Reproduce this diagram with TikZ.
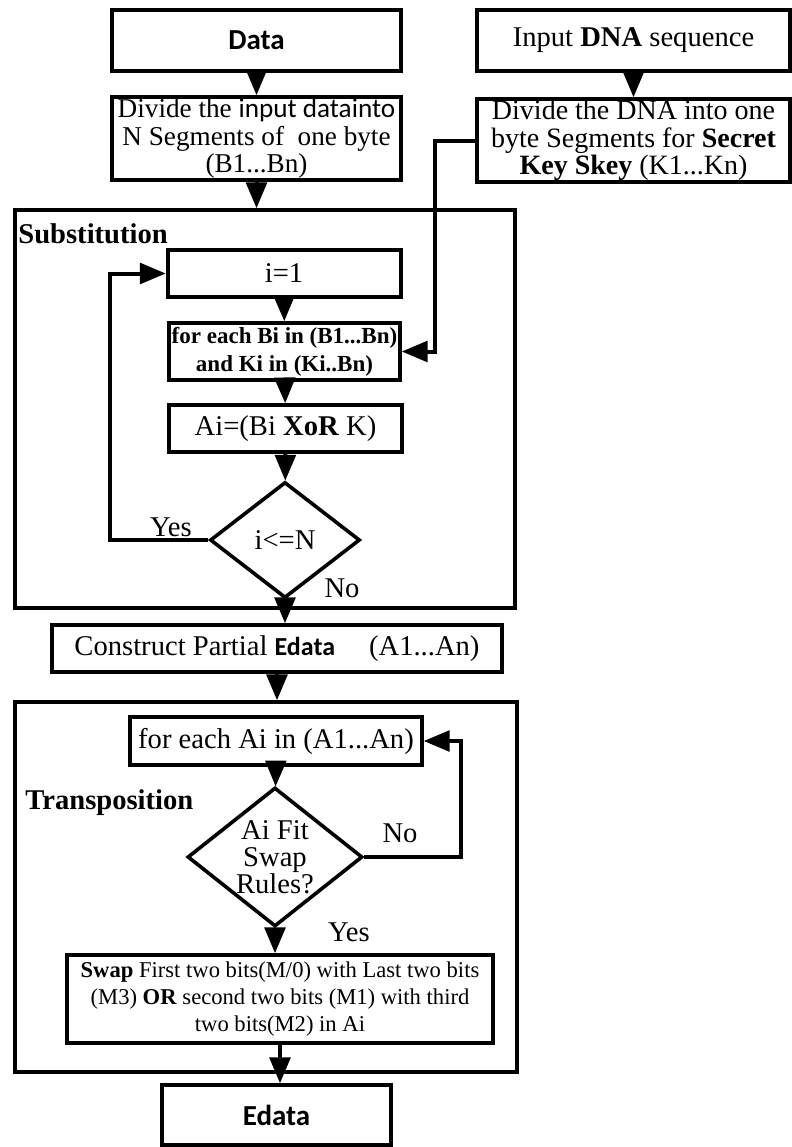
\documentclass[tikz,border=0pt]{standalone}
\usepackage{fontspec}
\setmainfont{Liberation Serif}
\newfontfamily\calfont{Carlito}
\usetikzlibrary{arrows,shapes.geometric}

\begin{document}
\begin{tikzpicture}[x=0.5pt, y=-0.5pt,
    box/.style={draw=black, line width=2pt, inner sep=0pt, align=center,
      font=\fontsize{14.3}{14}\selectfont},
    frame/.style={draw=black, line width=2pt, inner sep=0pt},
    decision/.style={draw=black, line width=1.8pt, diamond, align=center,
      font=\fontsize{14.3}{13.5}\selectfont},
    lbl/.style={inner sep=0pt, font=\fontsize{14.3}{14}\selectfont},
    arr/.style={line width=2pt, -triangle 45}]

  \useasboundingbox (0,0) rectangle (792,1147);

  % Data
  \node[box, minimum width=144.5pt, minimum height=30.5pt] (data) at (256.5,40.5)
    {\calfont\fontsize{14.5}{14}\selectfont\bfseries Data};
  \node[box, minimum width=144.5pt, minimum height=41.5pt,
    font=\fontsize{13.6}{13.8}\selectfont] (div) at (256.5,138.5)
    {Divide the {\calfont input datainto}\\N Segments of~ one byte\\(B1...Bn)};
  \draw[arr] (data) -- (div);

  % DNA key
  \node[box, minimum width=156.5pt, minimum height=30.5pt] (dna) at (633.5,40.5)
    {Input \textbf{DNA} sequence};
  \node[box, minimum width=156.5pt, minimum height=41.5pt,
    font=\fontsize{14}{13.8}\selectfont] (dnadiv) at (633.5,140.5)
    {Divide the DNA into one\\byte Segments for \textbf{Secret}\\\textbf{Key Skey} (K1...Kn)};
  \draw[arr] (dna) -- (dnadiv);

  % Substitution
  \node[frame, minimum width=250pt, minimum height=199pt] (sub) at (265,409) {};
  \node[lbl, anchor=west] (sublbl) at (18,234) {\textbf{Substitution}};
  \draw[arr] (div.south) -- (div.south |- sub.north);
  \node[box, minimum width=116.5pt, minimum height=23.5pt] (init) at (284,273.5) {i=1};
  \node[box, minimum width=115.5pt, minimum height=28.5pt,
    font=\fontsize{11.5}{14}\selectfont\bfseries] (foreach) at (284.5,351.5)
    {for each Bi in (B1...Bn)\\and Ki in (Ki..Bn)};
  \node[box, minimum width=116.5pt, minimum height=23.5pt] (xor) at (285.5,428.5)
    {Ai=(Bi \textbf{XoR} K)};
  \node[decision, inner sep=0pt, minimum width=75pt, minimum height=58pt] (cond) at (285,540) {i\textless=N};
  \node[lbl] (yes1) at (171,527) {Yes};
  \node[lbl] (no1) at (342,588) {No};
  \draw[arr] (init) -- (foreach);
  \draw[arr] (foreach) -- (xor);
  \draw[arr] (xor) -- (cond);
  \draw[arr] (cond.west) -- ++(-98,0) |- (init.west);
  \draw[arr] (dnadiv.west) -- ++(-40,0) |- (foreach.east);

  % Partial Edata
  \node[box, minimum width=225pt, minimum height=23.5pt] (construct) at (277,648.5)
    {Construct Partial {\calfont\fontsize{13}{14}\selectfont\bfseries Edata}\hspace{17pt}(A1...An)};
  \draw[arr] (cond.south) -- (cond.south |- construct.north);

  % Transposition
  \node[frame, minimum width=251pt, minimum height=185pt] (trans) at (266,887) {};
  \node[lbl, anchor=west] (translbl) at (25,803) {\textbf{Transposition}};
  \draw[arr] (construct.south) -- (construct.south |- trans.north);
  \node[box, minimum width=146pt, minimum height=24pt] (forai) at (276,741)
    {for each Ai in (A1...An)};
  \node[decision, inner sep=-2pt, minimum width=87.5pt, minimum height=69.5pt] (fit) at (275,857)
    {Ai Fit\\Swap\\Rules?};
  \node[lbl] (no2) at (400,833) {No};
  \node[lbl] (yes2) at (349,932) {Yes};
  \node[box, minimum width=213pt, minimum height=44pt,
    font=\fontsize{11.3}{13.3}\selectfont] (swap) at (280,999)
    {\textbf{Swap} First two bits(M/0) with Last two bits\\(M3) \textbf{OR} second two bits (M1) with third\\two bits(M2) in Ai};
  \draw[arr] (forai) -- (fit);
  \draw[arr] (fit.east) -- ++(97,0) |- (forai.east);
  \draw[arr] (fit.south) -- (fit.south |- swap.north);

  % Edata
  \node[box, minimum width=114.5pt, minimum height=30pt] (edata) at (276.5,1115)
    {\calfont\fontsize{14.5}{14}\selectfont\bfseries Edata};
  \draw[arr] (swap.south) -- (swap.south |- edata.north);

\end{tikzpicture}
\end{document}
